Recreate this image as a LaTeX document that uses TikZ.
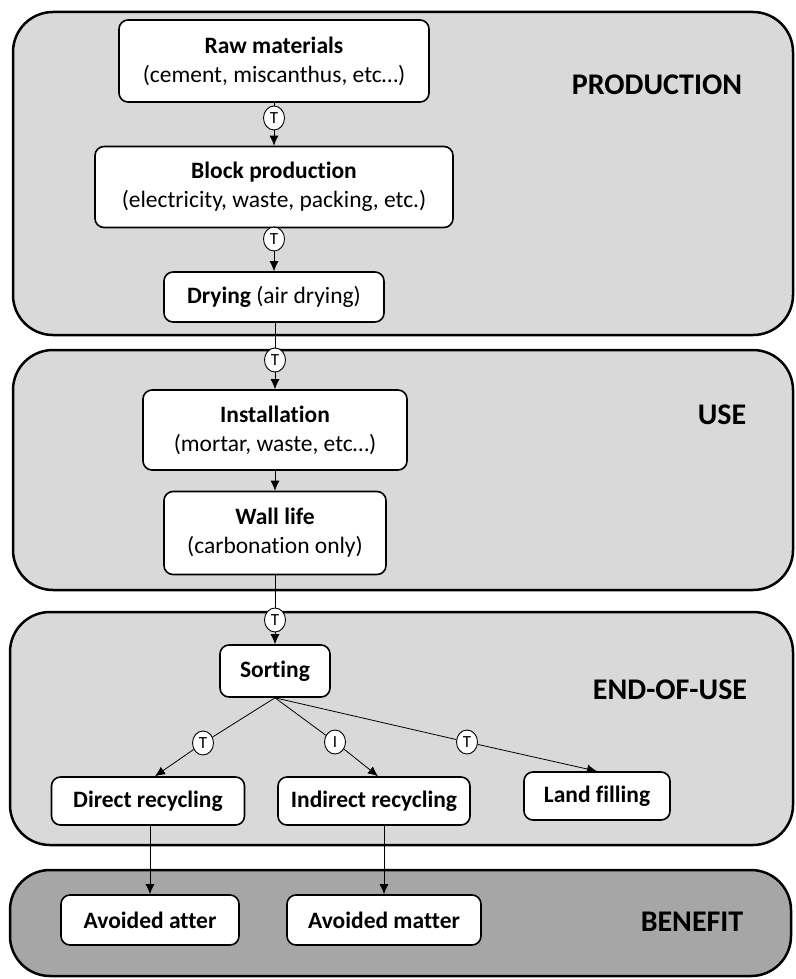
\documentclass[tikz,border=0pt]{standalone}
\usepackage{fontspec}
\setmainfont{Carlito}[Ligatures=NoCommon]
\usetikzlibrary{positioning, calc, shapes.geometric}
\usetikzlibrary{arrows.meta}
\tikzset{>={Latex[length=10pt,width=9pt]}}
\definecolor{panelgray}{HTML}{D9D9D9}
\definecolor{benefitgray}{HTML}{A6A6A6}

\begin{document}
\begin{tikzpicture}[x=1pt, y=-1pt,
		panel/.style={draw, line width=2.5pt, rounded corners=40pt, fill=panelgray},
		stepbox/.style={draw, line width=1.6pt, rounded corners=9pt, fill=white, align=center, inner sep=2pt, font=\fontsize{23.5}{29}\selectfont},
		tmark/.style={draw, ellipse, fill=white, inner sep=0pt, line width=0.9pt, minimum width=21pt, minimum height=24pt, font=\fontsize{17}{17}\selectfont},
		stage/.style={font=\fontsize{30}{34}\selectfont\bfseries},
		flow/.style={->, line width=0.8pt},
		link/.style={line width=0.8pt}]
				\useasboundingbox (0,0) rectangle (795,979);
				% the four stages
				\draw [panel] (13,12) rectangle (793,335);
				\draw [panel] (13,350) rectangle (793,590);
				\draw [panel] (10,612) rectangle (793,845);
				\draw [panel, fill=benefitgray] (10,870) rectangle (791,976);
				\node[stage] (production) at (657,85) {PRODUCTION};
				\node[stage] (use) at (722,415) {USE};
				\node[stage] (endofuse) at (670,690) {END-OF-USE};
				\node[stage] (benefit) at (692,922) {BENEFIT};
				% process steps
				\node[stepbox, minimum width=310, minimum height=82] (raw) at (274,61) {\textbf{Raw materials}\\(cement, miscanthus, etc…)};
				\node[stepbox, minimum width=358, minimum height=81] (block) at (274,187) {\textbf{Block production}\\(electricity, waste, packing, etc.)};
				\node[stepbox, minimum width=220, minimum height=50] (drying) at (274,297) {\textbf{Drying} (air drying)};
				\node[stepbox, minimum width=264, minimum height=80] (install) at (275,430) {\textbf{Installation}\\(mortar, waste, etc…)};
				\node[stepbox, minimum width=222, minimum height=83] (wall) at (275,533) {\textbf{Wall life}\\(carbonation only)};
				\node[stepbox, minimum width=110, minimum height=52] (sorting) at (275,671) {\textbf{Sorting}};
				\node[stepbox, minimum width=193, minimum height=48] (direct) at (148,801) {\textbf{Direct recycling}};
				\node[stepbox, minimum width=192, minimum height=48] (indirect) at (374,801) {\textbf{Indirect recycling}};
				\node[stepbox, minimum width=146, minimum height=48] (landfill) at (597,796) {\textbf{Land filling}};
				\node[stepbox, minimum width=178, minimum height=50] (avoidone) at (150,920) {\textbf{Avoided atter}};
				\node[stepbox, minimum width=194, minimum height=50] (avoidtwo) at (384,920) {\textbf{Avoided matter}};
				% transport marks
				\node[tmark] (t1) at (274,118) {T};
				\node[tmark] (t2) at (274,239) {T};
				\node[tmark] (t3) at (275,360) {T};
				\node[tmark] (t4) at (275,620) {T};
				\node[tmark] (t5) at (203,743) {T};
				\node[tmark] (i6) at (335,742) {I};
				\node[tmark] (t7) at (467,742) {T};
				\coordinate (dtip) at ($(direct.north)+(7,0)$);
				\coordinate (itip) at ($(indirect.north)+(4,0)$);
				% flows
				\draw [link] (raw) -- (t1);
				\draw [flow] (t1) -- (block);
				\draw [link] (block) -- (t2);
				\draw [flow] (t2) -- (drying);
				\draw [link] (drying.south -| t3) -- (t3);
				\draw [flow] (t3) -- (install);
				\draw [flow] (install) -- (wall);
				\draw [link] (wall) -- (t4);
				\draw [flow] (t4) -- (sorting);
				\draw [link] (sorting.south) -- (t5);
				\draw [flow] (t5) -- (dtip);
				\draw [link] (sorting.south) -- (i6);
				\draw [flow] (i6) -- (itip);
				\draw [link] (sorting.south) -- (t7);
				\draw [flow] (t7) -- (landfill.north);
				\draw [flow] (direct.south -| avoidone) -- (avoidone);
				\draw [flow] (indirect.south -| avoidtwo) -- (avoidtwo);
			\end{tikzpicture}
\end{document}
